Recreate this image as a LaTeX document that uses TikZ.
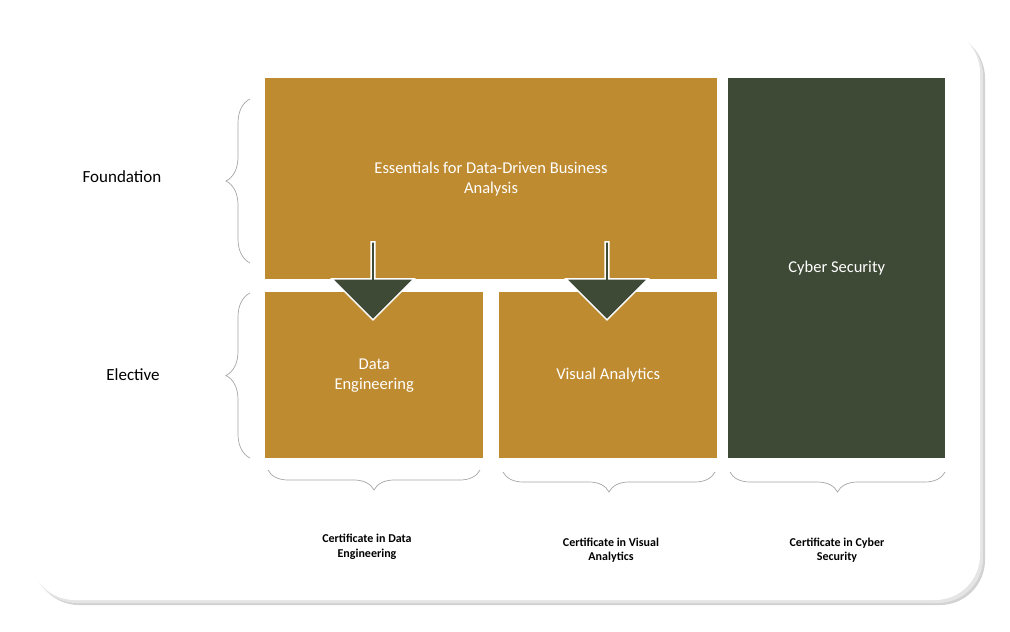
\documentclass[tikz,border=0pt]{standalone}
\usepackage{fontspec}
\setmainfont{Carlito}
\usetikzlibrary{decorations.pathreplacing,shapes.arrows}
\definecolor{gold}{HTML}{BF8B30}
\definecolor{dgreen}{HTML}{3E4A35}
\begin{document}
\begin{tikzpicture}[x=1pt,y=-1pt,
  blk/.style={fill=gold,draw=none,text=white,font=\fontsize{16.5}{20}\selectfont,align=center,inner sep=0},
  brc/.style={draw=gray!70,line width=0.7pt,decoration={brace,amplitude=#1},decorate},
  lbl/.style={font=\fontsize{17}{20}\selectfont},
  captext/.style={font=\bfseries\fontsize{12}{14.5}\selectfont,align=center},
  darr/.style={single arrow,fill=dgreen,draw=white,line width=1.5pt,shape border rotate=270,minimum height=78pt,minimum width=82pt,single arrow head extend=16pt,single arrow tip angle=90,inner sep=0}]
\useasboundingbox (0,0) rectangle (1010,632);
\fill[gray!35,rounded corners=45pt] (34,33) rectangle (985,605);
\fill[gray!20,rounded corners=45pt] (32,31) rectangle (983,603);
\fill[white,rounded corners=45pt] (30,28) rectangle (980,600);
\node[blk,minimum width=452pt,minimum height=201pt,anchor=north west,text depth=0pt] (ess) at (265,78) {};
\node[font=\fontsize{16.5}{20}\selectfont,text=white,align=center] (esst) at (491,179) {Essentials for Data-Driven Business\\Analysis};
\node[blk,fill=dgreen,minimum width=217pt,minimum height=380pt,anchor=north west] (cyb) at (728,78) {Cyber Security};
\node[blk,minimum width=218pt,minimum height=166pt,anchor=north west] (de) at (265,292) {Data\\Engineering};
\node[blk,minimum width=218pt,minimum height=166pt,anchor=north west] (va) at (499,292) {Visual Analytics};
\node[darr] (a1) at (373,280) {};
\node[darr] (a2) at (607,280) {};
\node[lbl] (fd) at (122,177) {Foundation};
\node[lbl] (el) at (133,375) {Elective};
\coordinate (f1) at (250,263); \coordinate (f2) at (250,99);
\coordinate (e1) at (250,458); \coordinate (e2) at (250,293);
\draw[brc=24pt] (f1) -- (f2);
\draw[brc=24pt] (e1) -- (e2);
\coordinate (b1a) at (480,470); \coordinate (b1b) at (268,470);
\coordinate (b2a) at (715,472); \coordinate (b2b) at (503,472);
\coordinate (b3a) at (945,472); \coordinate (b3b) at (730,472);
\draw[brc=20pt] (b1a) -- (b1b);
\draw[brc=20pt] (b2a) -- (b2b);
\draw[brc=20pt] (b3a) -- (b3b);
\node[captext] (c1) at (367,547) {Certificate in Data\\Engineering};
\node[captext] (c2) at (611,550) {Certificate in Visual\\Analytics};
\node[captext] (c3) at (837,550) {Certificate in Cyber\\Security};
\end{tikzpicture}
\end{document}
